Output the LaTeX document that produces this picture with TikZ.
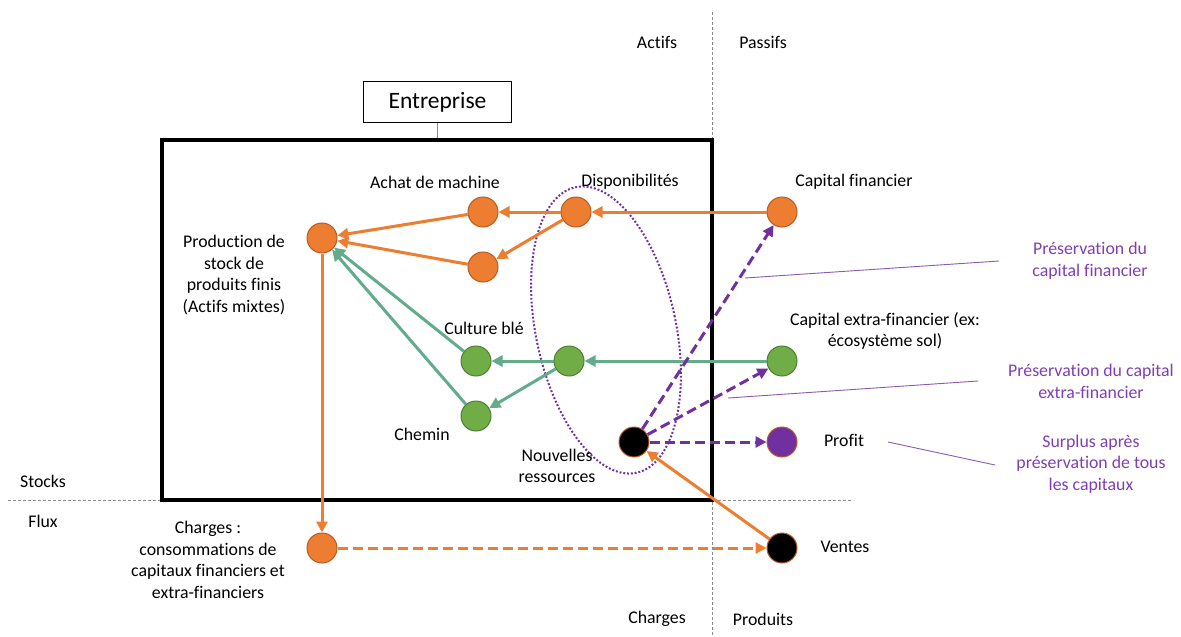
\documentclass[tikz,border=0pt]{standalone}
\usepackage{fontspec}
\setmainfont{Carlito}[Ligatures=NoCommon]
\usetikzlibrary{arrows.meta}
\definecolor{org}{HTML}{ED7D31}
\definecolor{orgedge}{HTML}{B85C24}
\definecolor{grn}{HTML}{70AD47}
\definecolor{grnedge}{HTML}{507E32}
\definecolor{teal2}{HTML}{62AC8C}
\definecolor{purp}{HTML}{7030A0}
\definecolor{purptext}{HTML}{7F3FB3}
\definecolor{gridgray}{HTML}{8C8C8C}
\tikzset{
  dot/.style={circle, minimum size=30pt, inner sep=0pt, draw=orgedge, line width=1pt},
  onode/.style={dot, fill=org},
  gnode/.style={dot, fill=grn, draw=grnedge},
  bnode/.style={dot, fill=black},
  pnode/.style={dot, fill=purp},
  lbl/.style={font=\fontsize{17.8}{21.5}\selectfont, align=center, inner sep=0pt},
  plbl/.style={lbl, text=purptext},
  tip/.style={-{Triangle[length=11pt,width=11pt]}},
  oarr/.style={draw=org, line width=3pt, tip},
  garr/.style={draw=teal2, line width=3pt, tip},
  parr/.style={draw=purp, line width=3pt, dash pattern=on 10pt off 5pt, tip},
  odash/.style={draw=org, line width=3pt, dash pattern=on 10pt off 5pt, tip},
  gridline/.style={draw=gridgray, line width=0.9pt, dash pattern=on 3pt off 2pt},
  callout/.style={draw=purp!80, line width=0.9pt},
}
\begin{document}
\begin{tikzpicture}[x=1pt,y=-1pt]
\fill[white] (0,0) rectangle (1181,637);
\useasboundingbox (0,0) rectangle (1181,637);

% grid lines
\coordinate (vtop) at (712,12);
\coordinate (vbot) at (712,637);
\coordinate (hl) at (8,500.5);
\coordinate (hr) at (853,500.5);
\draw[gridline] (vtop) -- (vbot);
\draw[gridline] (hl) -- (hr);

% firm rectangle
\node[draw=black, line width=3.5pt, minimum width=550pt, minimum height=360pt, inner sep=0pt] (firm) at (437,320) {};
\node[draw=black, line width=1.2pt, minimum width=148pt, minimum height=41pt, inner sep=0pt,
      font=\fontsize{23.5}{26}\selectfont] (entbox) at (437.5,102) {Entreprise};
\draw[gridgray, line width=1pt] (entbox.south) -- (entbox.south |- firm.north);

% ellipse
\draw[purp, line width=2pt, dash pattern=on 1.9pt off 1.9pt, rotate around={12:(606,330)}]
  (606,330) ellipse [x radius=70, y radius=146];

% corner labels
\node[lbl] (actifs) at (657,42) {Actifs};
\node[lbl] (passifs) at (763,42) {Passifs};
\node[lbl] (chg) at (657,619) {Charges};
\node[lbl] (prd) at (763,619) {Produits};
\node[lbl] (stocks) at (43,481) {Stocks};
\node[lbl] (flux) at (43,521) {Flux};

% nodes
\node[onode] (prod) at (322,238) {};
\node[onode] (achat1) at (483,212) {};
\node[onode] (achat2) at (483,267) {};
\node[onode] (dispo) at (576,212) {};
\node[onode] (capfin) at (782,212) {};
\node[gnode] (ble) at (476,361) {};
\node[gnode] (dispog) at (569,361) {};
\node[gnode] (chemin) at (476,416) {};
\node[gnode] (capext) at (782,361) {};
\node[bnode] (nouv) at (634,442) {};
\node[pnode] (profit) at (782,442) {};
\node[onode] (charges) at (322,548) {};
\node[bnode] (ventes) at (782,548) {};

% labels
\node[lbl] (lachat) at (435,182) {Achat de machine};
\node[lbl] (ldispo) at (630,182) {Disponibilités};
\node[lbl] (lcapfin) at (854,182) {Capital financier};
\node[lbl] (lprod) at (234,275) {Production de\\stock de\\produits finis\\(Actifs mixtes)};
\node[lbl] (lble) at (484,328) {Culture blé};
\node[lbl] (lcapext) at (885,331) {Capital extra-financier (ex:\\écosystème sol)};
\node[lbl] (lchemin) at (422,434) {Chemin};
\node[lbl] (lnouv) at (557,466) {Nouvelles\\ressources};
\node[lbl] (lprofit) at (844,440) {Profit};
\node[lbl] (lventes) at (845,547) {Ventes};
\node[lbl] (lcharges) at (208,560) {Charges :\\consommations de\\capitaux financiers et\\extra-financiers};

\node[plbl] (p1) at (1090,261) {Préservation du\\capital financier};
\node[plbl] (p2) at (1091,381.5) {Préservation du capital\\extra-financier};
\node[plbl] (p3) at (1091,464) {Surplus après\\préservation de tous\\les capitaux};

% orange flows
\draw[oarr] (capfin) -- (dispo);
\draw[oarr] (dispo) -- (achat1);
\draw[oarr] (dispo) -- (achat2);
\draw[oarr] (achat1) -- (prod);
\draw[oarr] (achat2) -- (prod);
\draw[oarr] (prod) -- (charges);
\draw[odash] (charges) -- (ventes);
\draw[oarr] (ventes) -- (nouv);

% green flows
\draw[garr] (capext) -- (dispog);
\draw[garr] (dispog) -- (ble);
\draw[garr] (dispog) -- (chemin);
\draw[garr] (ble) -- (prod);
\draw[garr] (chemin) -- (prod);

% purple flows
\draw[parr] (nouv) -- (capfin);
\draw[parr] (nouv) -- (capext);
\draw[parr] (nouv) -- (profit);

% callouts
\coordinate (c1a) at (745,278);
\coordinate (c1b) at (999,261);
\coordinate (c2a) at (728,398);
\coordinate (c2b) at (978,381);
\coordinate (c3a) at (888,442);
\coordinate (c3b) at (995,465);
\draw[callout] (c1a) -- (c1b);
\draw[callout] (c2a) -- (c2b);
\draw[callout] (c3a) -- (c3b);
\end{tikzpicture}
\end{document}
